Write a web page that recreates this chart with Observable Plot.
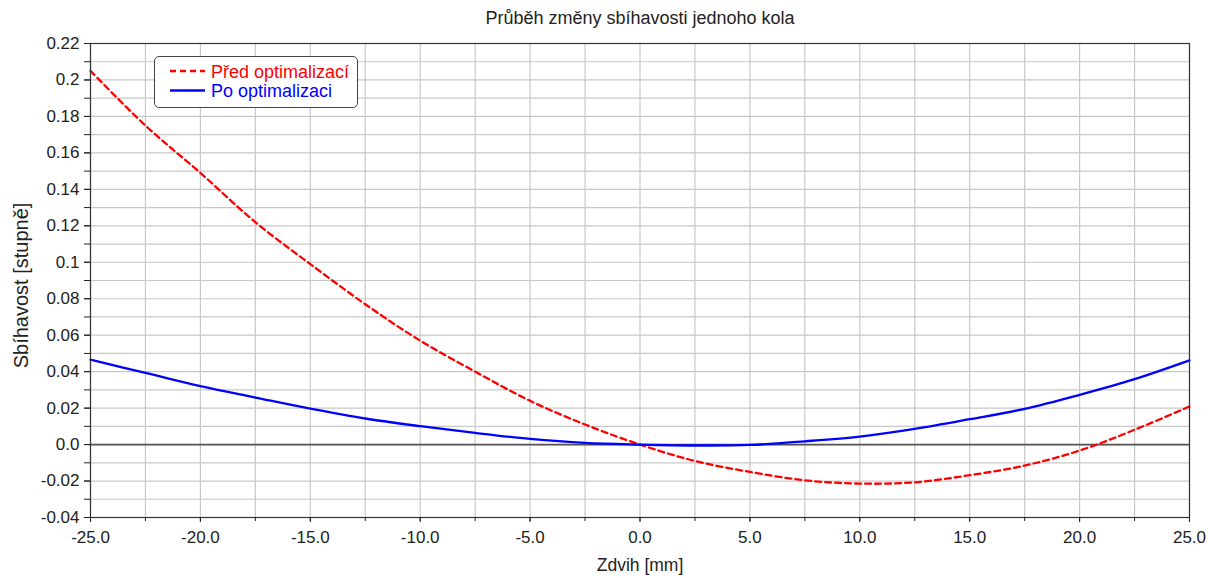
<!DOCTYPE html>
<html>
<head>
<meta charset="utf-8">
<script src="https://cdn.jsdelivr.net/npm/d3@7"></script>
<script src="https://cdn.jsdelivr.net/npm/@observablehq/plot@0.6"></script>
<style>
  html, body { margin: 0; padding: 0; background: #fff; }
  #wrap { position: relative; width: 1208px; height: 578px; font-family: "Liberation Sans", Arial, sans-serif; }
  #title { position: absolute; left: 0; width: 1280px; top: 8px; text-align: center; font-size: 18px; color: #222; }
  #legend { position: absolute; left: 154px; top: 56px; width: 204px; height: 52px; border: 1px solid #444; border-radius: 5px; background: #fff; box-sizing: border-box; }
  #legend svg { position: absolute; left: 0; top: 0; }
</style>
</head>
<body>
<div id="wrap">
  <div id="chart"></div>
  <div id="title">Průběh změny sbíhavosti jednoho kola</div>
  <div id="legend"></div>
</div>
<script>
// ---- data ----
const zdvih = [-25, -22.5, -20, -17.5, -15, -12.5, -10, -7.5, -5, -2.5, 0, 2.5, 5, 7.5, 10, 12.5, 15, 17.5, 20, 22.5, 25];
const predOptimalizaci = [0.205, 0.175, 0.149, 0.122, 0.099, 0.077, 0.057, 0.040, 0.024, 0.011, 0.0, -0.009, -0.015, -0.0196, -0.0214, -0.0207, -0.0168, -0.0115, -0.0033, 0.0081, 0.0209];
const poOptimalizaci = [0.0466, 0.0393, 0.032, 0.0258, 0.0197, 0.0143, 0.0101, 0.0064, 0.0031, 0.0009, 0.0, -0.0005, -0.0002, 0.0018, 0.0044, 0.0086, 0.0139, 0.0196, 0.0273, 0.0359, 0.0462];
const seriesNames = ["Před optimalizací", "Po optimalizaci"];
const seriesColors = ["#ff0000", "#0000ff"];
const xTicks = [-25, -20, -15, -10, -5, 0, 5, 10, 15, 20, 25];
const xMinorTicks = [-25, -22.5, -20, -17.5, -15, -12.5, -10, -7.5, -5, -2.5, 0, 2.5, 5, 7.5, 10, 12.5, 15, 17.5, 20, 22.5, 25];
const yTicks = [-0.04, -0.02, 0, 0.02, 0.04, 0.06, 0.08, 0.1, 0.12, 0.14, 0.16, 0.18, 0.2, 0.22];
const yMinorTicks = [-0.04, -0.03, -0.02, -0.01, 0, 0.01, 0.02, 0.03, 0.04, 0.05, 0.06, 0.07, 0.08, 0.09, 0.1, 0.11, 0.12, 0.13, 0.14, 0.15, 0.16, 0.17, 0.18, 0.19, 0.2, 0.21, 0.22];
const xLabel = "Zdvih [mm]";
const yLabel = "Sbíhavost [stupně]";

const pred = zdvih.map((x, i) => ({x, y: predOptimalizaci[i]}));
const po = zdvih.map((x, i) => ({x, y: poOptimalizaci[i]}));

const font = "Liberation Sans, Arial, sans-serif";

const chart = Plot.plot({
  width: 1208,
  height: 578,
  marginLeft: 90,
  marginRight: 19,
  marginTop: 43,
  marginBottom: 61,
  style: {fontFamily: font, fontSize: "17px", color: "#222", background: "#fff"},
  x: {domain: [-25, 25]},
  y: {domain: [-0.04, 0.22]},
  marks: [
    Plot.gridX(xMinorTicks, {stroke: "#c8c8c8", strokeOpacity: 1, strokeWidth: 1.2}),
    Plot.gridY(yMinorTicks, {stroke: "#c8c8c8", strokeOpacity: 1, strokeWidth: 1.2}),
    Plot.ruleY([0], {stroke: "#555", strokeWidth: 1.6}),
    Plot.line(pred, {x: "x", y: "y", stroke: seriesColors[0], strokeWidth: 2.3, strokeDasharray: "6,4", curve: "catmull-rom"}),
    Plot.line(po, {x: "x", y: "y", stroke: seriesColors[1], strokeWidth: 2.3, curve: "catmull-rom"}),
    Plot.frame({stroke: "#333", strokeWidth: 1.2}),
    Plot.axisY(yMinorTicks, {tickSize: 6, tickFormat: () => "", label: null, stroke: "#222"}),
    Plot.axisY(yTicks, {tickSize: 6, tickPadding: 5, tickFormat: d => d === 0 ? "0.0" : String(+d.toFixed(2)), label: null, fill: "#222", stroke: "#222", fontSize: 17}),
    Plot.axisX(xMinorTicks, {tickSize: 4, tickFormat: () => "", label: null, stroke: "#222"}),
    Plot.axisX(xTicks, {tickSize: 5, tickPadding: 8, tickFormat: d => d.toFixed(1), label: null, fill: "#222", stroke: "#222", fontSize: 17}),
    Plot.text([xLabel], {frameAnchor: "bottom", dy: 53, fill: "#222", fontSize: 17.5, text: d => d}),
    Plot.text([yLabel], {frameAnchor: "left", textAnchor: "middle", dx: -69, dy: 5, rotate: -90, fill: "#222", fontSize: 20, text: d => d})
  ]
});
document.getElementById("chart").appendChild(chart);

// legend overlay
const lg = d3.select("#legend").append("svg").attr("width", 204).attr("height", 52);
seriesNames.forEach((name, i) => {
  const cy = 14 + i * 19.5;
  lg.append("line").attr("x1", 15).attr("x2", 50).attr("y1", cy).attr("y2", cy)
    .attr("stroke", seriesColors[i]).attr("stroke-width", 2.3)
    .attr("stroke-dasharray", i === 0 ? "6,4" : null);
  lg.append("text").attr("x", 56).attr("y", cy + 6.5).text(name)
    .attr("fill", seriesColors[i]).attr("font-family", font).attr("font-size", 18);
});
</script>
</body>
</html>
